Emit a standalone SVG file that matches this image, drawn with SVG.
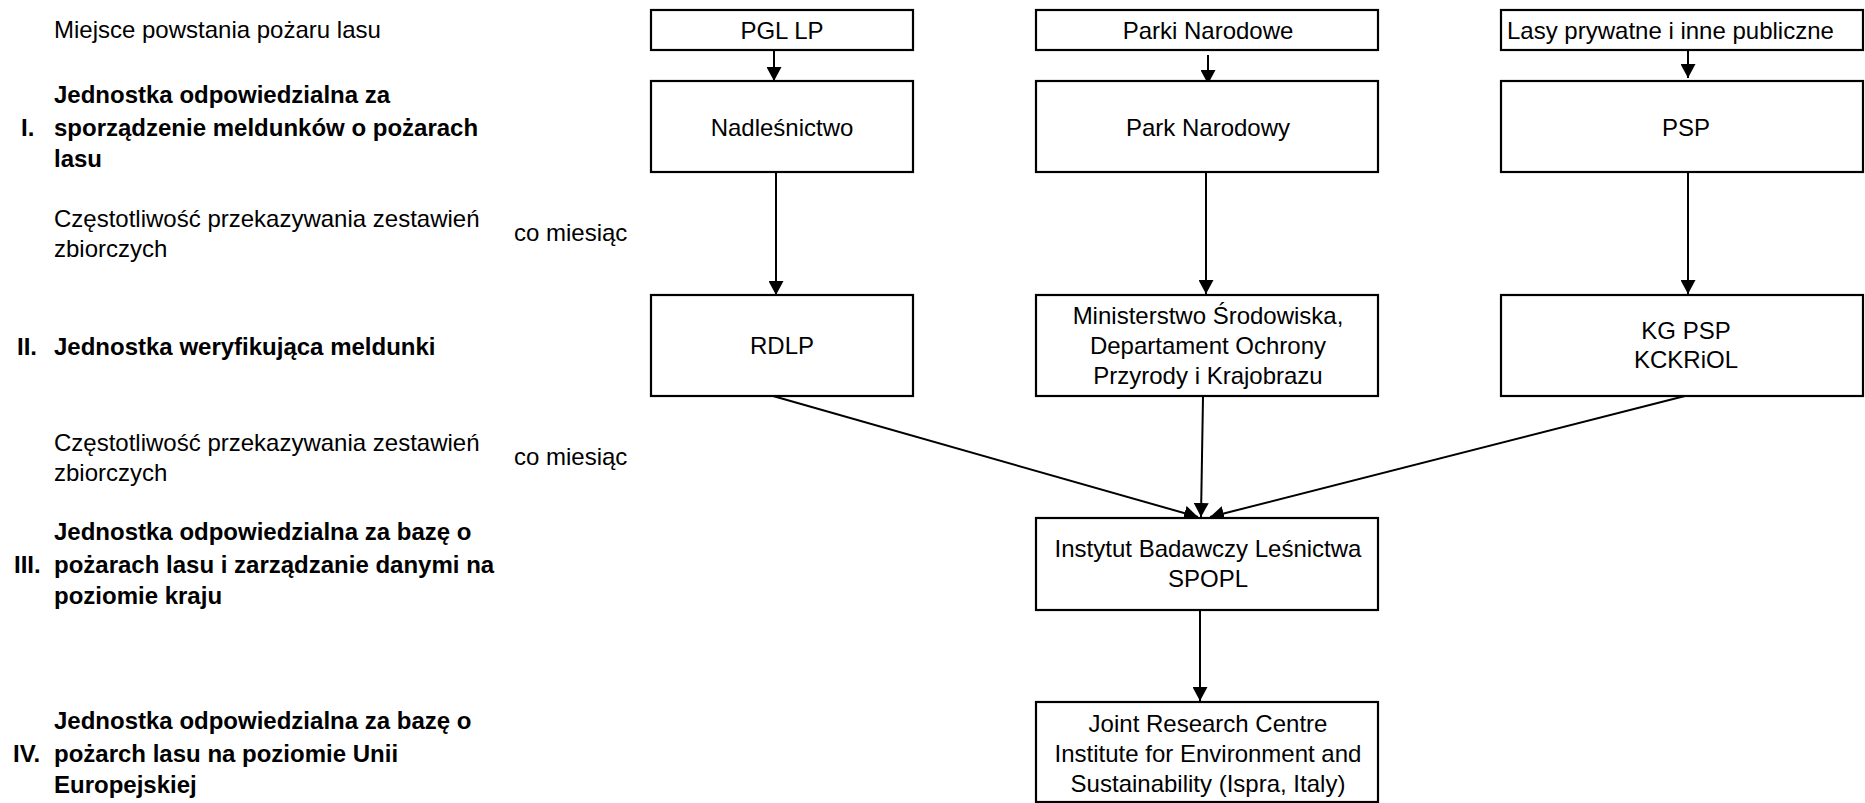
<svg xmlns="http://www.w3.org/2000/svg" width="1865" height="803" viewBox="0 0 1865 803">
<style>
text{font-family:"Liberation Sans",Arial,sans-serif;font-size:24px;fill:#000}
.b{font-weight:bold}
.c{text-anchor:middle}
.box{fill:#fff;stroke:#000;stroke-width:2.2}
.con{stroke:#000;stroke-width:2;fill:none}
</style>
<defs>
<marker id="ah" markerUnits="userSpaceOnUse" markerWidth="15" markerHeight="15" refX="14" refY="7.5" orient="auto">
<path d="M0,0 L14,7.5 L0,15 z" fill="#000"/>
</marker>
</defs>
<rect width="1865" height="803" fill="#fff"/>

<g id="labels">
<text x="54" y="38">Miejsce powstania pożaru lasu</text>
<text class="b" x="21" y="136">I.</text>
<text class="b" x="54" y="103">Jednostka odpowiedzialna za</text>
<text class="b" x="54" y="136">sporządzenie meldunków o pożarach</text>
<text class="b" x="54" y="167">lasu</text>
<text x="54" y="227">Częstotliwość przekazywania zestawień</text>
<text x="54" y="257">zbiorczych</text>
<text x="514" y="241">co miesiąc</text>
<text class="b" x="17" y="355">II.</text>
<text class="b" x="54" y="355">Jednostka weryfikująca meldunki</text>
<text x="54" y="451">Częstotliwość przekazywania zestawień</text>
<text x="54" y="481">zbiorczych</text>
<text x="514" y="465">co miesiąc</text>
<text class="b" x="14" y="573">III.</text>
<text class="b" x="54" y="540">Jednostka odpowiedzialna za bazę o</text>
<text class="b" x="54" y="573">pożarach lasu i zarządzanie danymi na</text>
<text class="b" x="54" y="604">poziomie kraju</text>
<text class="b" x="13" y="762">IV.</text>
<text class="b" x="54" y="729">Jednostka odpowiedzialna za bazę o</text>
<text class="b" x="54" y="762">pożarch lasu na poziomie Unii</text>
<text class="b" x="54" y="793">Europejskiej</text>
</g>

<g id="connectors">
<line class="con" x1="774" y1="51" x2="774" y2="81" marker-end="url(#ah)"/>
<line class="con" x1="776" y1="171" x2="776" y2="295" marker-end="url(#ah)"/>
<line class="con" x1="1208" y1="55" x2="1208" y2="84" marker-end="url(#ah)"/>
<line class="con" x1="1206" y1="168" x2="1206" y2="294" marker-end="url(#ah)"/>
<line class="con" x1="1688" y1="48" x2="1688" y2="78" marker-end="url(#ah)"/>
<line class="con" x1="1688" y1="168" x2="1688" y2="294" marker-end="url(#ah)"/>
<line class="con" x1="773" y1="396" x2="1198" y2="517" marker-end="url(#ah)"/>
<line class="con" x1="1203" y1="397" x2="1201" y2="517" marker-end="url(#ah)"/>
<line class="con" x1="1685" y1="396" x2="1210" y2="517" marker-end="url(#ah)"/>
<line class="con" x1="1200" y1="610" x2="1200" y2="701" marker-end="url(#ah)"/>
</g>

<g id="n-pgl"><rect class="box" x="651" y="10" width="262" height="40"/><text class="c" x="782" y="39">PGL LP</text></g>
<g id="n-parki"><rect class="box" x="1036" y="10" width="342" height="40"/><text class="c" x="1208" y="39">Parki Narodowe</text></g>
<g id="n-lasy"><rect class="box" x="1501" y="10" width="362" height="40"/><text x="1507" y="39">Lasy prywatne i inne publiczne</text></g>

<g id="n-nadl"><rect class="box" x="651" y="81" width="262" height="91"/><text class="c" x="782" y="136">Nadleśnictwo</text></g>
<g id="n-park"><rect class="box" x="1036" y="81" width="342" height="91"/><text class="c" x="1208" y="136">Park Narodowy</text></g>
<g id="n-psp"><rect class="box" x="1501" y="81" width="362" height="91"/><text class="c" x="1686" y="136">PSP</text></g>

<g id="n-rdlp"><rect class="box" x="651" y="295" width="262" height="101"/><text class="c" x="782" y="354">RDLP</text></g>
<g id="n-min"><rect class="box" x="1036" y="295" width="342" height="101"/><text class="c" x="1208" y="324">Ministerstwo Środowiska,</text><text class="c" x="1208" y="354">Departament Ochrony</text><text class="c" x="1208" y="384">Przyrody i Krajobrazu</text></g>
<g id="n-kg"><rect class="box" x="1501" y="295" width="362" height="101"/><text class="c" x="1686" y="339">KG PSP</text><text class="c" x="1686" y="368">KCKRiOL</text></g>

<g id="n-ibl"><rect class="box" x="1036" y="518" width="342" height="92"/><text class="c" x="1208" y="557">Instytut Badawczy Leśnictwa</text><text class="c" x="1208" y="587">SPOPL</text></g>
<g id="n-jrc"><rect class="box" x="1036" y="702" width="342" height="100"/><text class="c" x="1208" y="732">Joint Research Centre</text><text class="c" x="1208" y="762">Institute for Environment and</text><text class="c" x="1208" y="792">Sustainability (Ispra, Italy)</text></g>
</svg>
